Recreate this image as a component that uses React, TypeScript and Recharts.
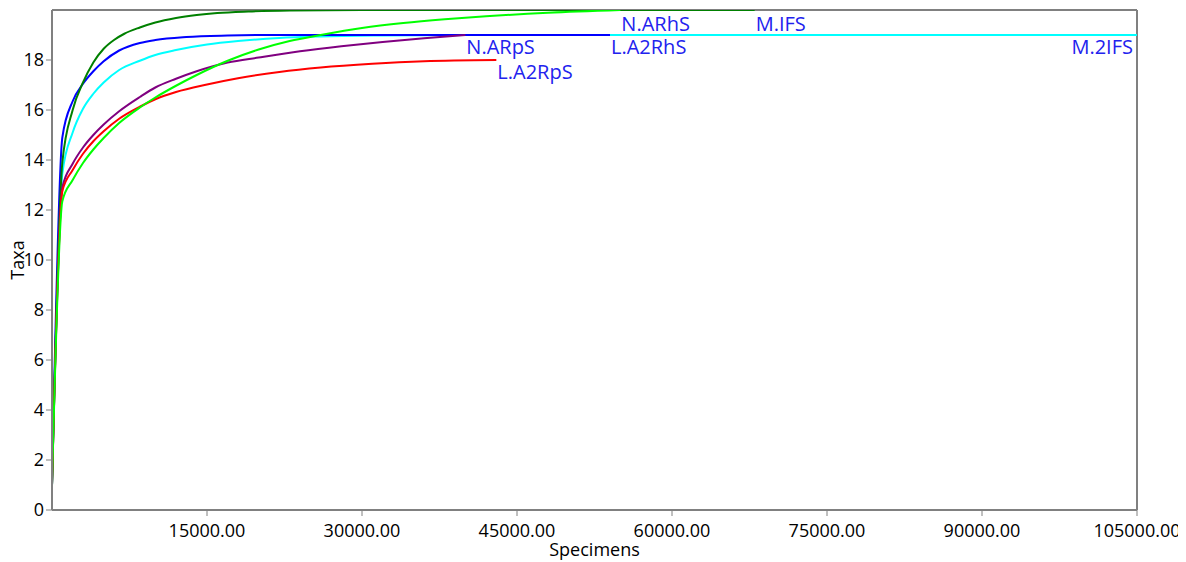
import React from 'react';
import { LineChart, Line, XAxis, YAxis, ReferenceLine, Label } from 'recharts';

type Pt = { x: number; y: number };
const pts = (rows: number[][]): Pt[] => rows.map(([x, y]) => ({ x, y }));

const xTicks = [15000, 30000, 45000, 60000, 75000, 90000, 105000];
const yTicks = [0, 2, 4, 6, 8, 10, 12, 14, 16, 18];

const seriesNames = ['M.IFS', 'L.A2RhS', 'M.2IFS', 'N.ARpS', 'L.A2RpS', 'N.ARhS'];

const mIFS = pts([
  [1, 1], [1000, 13.9], [2000, 16.0], [3000, 17.1], [4000, 17.9], [5000, 18.45], [6000, 18.8],
  [7000, 19.05], [8500, 19.3], [10000, 19.5], [12000, 19.68], [14000, 19.8], [16000, 19.88],
  [19000, 19.94], [23000, 19.98], [30000, 20], [68000, 20],
]);
const lA2RhS = pts([
  [1, 1], [1000, 14.9], [2000, 16.35], [3000, 17.05], [4000, 17.55], [5000, 17.95], [6500, 18.38],
  [8500, 18.68], [10000, 18.8], [13000, 18.92], [17000, 18.98], [21000, 19], [54000, 19],
]);
const m2IFS = pts([
  [1, 1], [1000, 13.45], [2000, 15.1], [3000, 16.05], [4000, 16.65], [5000, 17.1], [6500, 17.6],
  [8500, 17.97], [10000, 18.2], [12000, 18.4], [15000, 18.62], [18000, 18.76], [22000, 18.88],
  [26000, 18.94], [32000, 18.98], [40000, 19.0], [105000, 19.0],
]);
const nARpS = pts([
  [1, 1], [1000, 12.9], [2000, 13.85], [3000, 14.5], [4000, 15.0], [5000, 15.42], [6500, 15.95],
  [8500, 16.52], [10000, 16.9], [12000, 17.25], [14000, 17.55], [17000, 17.9], [20000, 18.1],
  [24000, 18.35], [28000, 18.55], [32000, 18.72], [36000, 18.87], [40000, 19.0],
]);
const lA2RpS = pts([
  [1, 1], [1000, 12.75], [2000, 13.6], [3000, 14.25], [4000, 14.75], [5000, 15.15], [6500, 15.65],
  [8500, 16.13], [10000, 16.43], [12000, 16.72], [15000, 17.02], [18000, 17.27], [22000, 17.52],
  [26000, 17.7], [31000, 17.85], [36000, 17.95], [43000, 18.0],
]);
const nARhS = pts([
  [1, 1], [1000, 12.35], [2000, 13.2], [3000, 13.88], [4000, 14.42], [5000, 14.88], [6500, 15.48],
  [8500, 16.1], [10000, 16.5], [12000, 16.97], [14000, 17.4], [17000, 17.97], [20000, 18.42],
  [23000, 18.76], [26000, 19.0], [30000, 19.28], [34000, 19.48], [38000, 19.63], [42000, 19.75],
  [48000, 19.89], [55000, 20],
]);

const seriesData = [mIFS, lA2RhS, m2IFS, nARpS, lA2RpS, nARhS];
const seriesColors = ['#008000', '#0000ff', '#00ffff', '#800080', '#ff0000', '#00ff00'];
const drawOrder = [2, 1, 0, 3, 4, 5];

const FONT = '"Open Sans", sans-serif';
const LABEL_COLOR = '#2222ee';

const endLabel = (name: string, n: number, anchor: 'start' | 'end', dy: number) => (props: any) => {
  const { x, y, index } = props;
  if (index !== n - 1) return <g />;
  return (
    <text
      x={anchor === 'end' ? x - 4 : x + 1}
      y={y + dy}
      fill={LABEL_COLOR}
      fontSize={20}
      fontFamily={FONT}
      textAnchor={anchor}
    >
      {name}
    </text>
  );
};

export default function App() {
  return (
    <div style={{ fontFamily: FONT, width: 1178, height: 554 }}>
      <LineChart width={1178} height={554} margin={{ top: 2, right: 49, bottom: 0, left: 0 }}>
        <XAxis
          dataKey="x"
          type="number"
          domain={[0, 105000]}
          ticks={xTicks}
          tickFormatter={(v: number) => v.toFixed(2)}
          height={52}
          tickMargin={8}
          axisLine={{ stroke: '#808080', strokeWidth: 2 }}
          tickLine={{ stroke: '#808080' }}
          tick={{ fill: '#000', fontSize: 18, fontFamily: FONT }}
          allowDataOverflow
        >
          <Label
            content={(p: any) => {
              const vb = p.viewBox || { x: 44, y: 502, width: 1085 };
              return (
                <text x={vb.x + vb.width / 2} y={vb.y + 46} textAnchor="middle" fontSize={18} fill="#000" fontFamily={FONT}>
                  Specimens
                </text>
              );
            }}
          />
        </XAxis>
        <YAxis
          type="number"
          domain={[0, 20]}
          ticks={yTicks}
          width={44}
          axisLine={{ stroke: '#808080', strokeWidth: 2 }}
          tickLine={{ stroke: '#808080' }}
          tick={{ fill: '#000', fontSize: 18, fontFamily: FONT }}
          allowDataOverflow
        >
          <Label
            content={(p: any) => {
              const vb = p.viewBox || { x: 0, y: 2, height: 500 };
              const cx = vb.x + 16;
              const cy = vb.y + vb.height / 2;
              return (
                <text x={cx} y={cy} textAnchor="middle" fontSize={18} fill="#000" fontFamily={FONT} transform={`rotate(-90, ${cx}, ${cy})`}>
                  Taxa
                </text>
              );
            }}
          />
        </YAxis>
        <ReferenceLine y={20} stroke="#808080" strokeWidth={2} />
        <ReferenceLine x={105000} stroke="#808080" strokeWidth={2} />
        {drawOrder.map((i) => {
          const d = seriesData[i];
          const name = seriesNames[i];
          const anchor = name === 'M.2IFS' ? 'end' : 'start';
          const dy = d[d.length - 1].y >= 20 ? 21 : 19;
          return (
            <Line
              key={name}
              data={d}
              dataKey="y"
              name={name}
              type="monotone"
              stroke={seriesColors[i]}
              strokeWidth={2}
              dot={false}
              activeDot={false}
              isAnimationActive={false}
              label={endLabel(name, d.length, anchor, dy)}
            />
          );
        })}
      </LineChart>
    </div>
  );
}
